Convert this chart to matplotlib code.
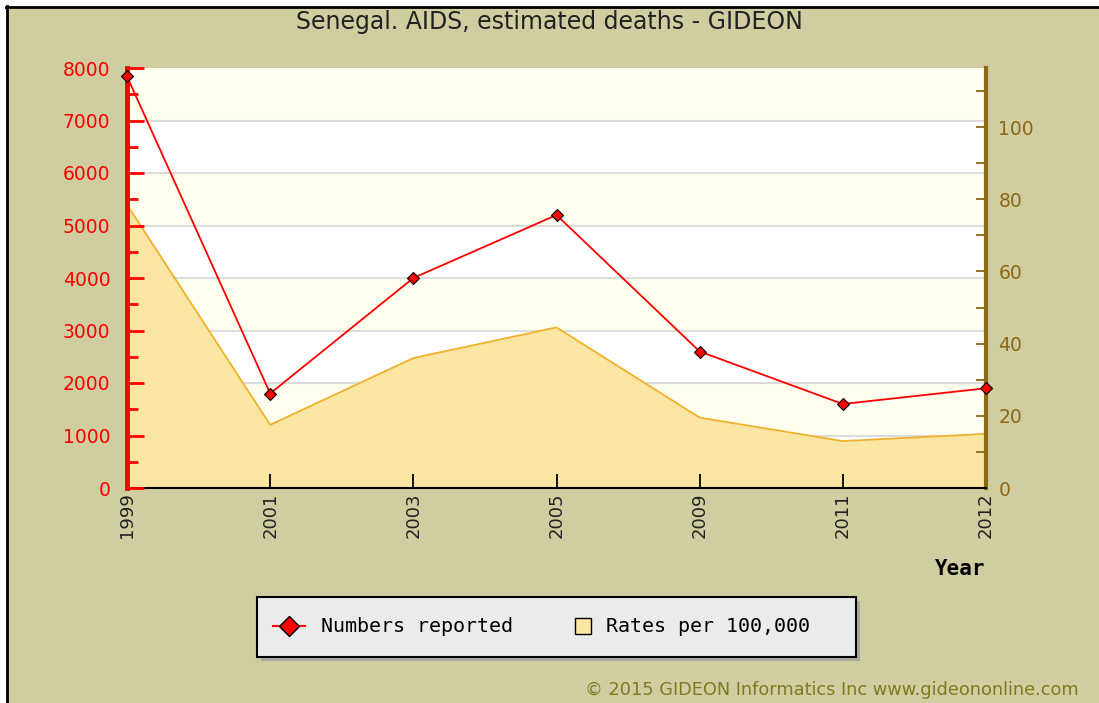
import matplotlib
matplotlib.use("Agg")
import matplotlib.pyplot as plt
from matplotlib.lines import Line2D
from matplotlib.patches import Rectangle
from matplotlib.ticker import MultipleLocator

# данные с графика
years = ["1999", "2001", "2003", "2005", "2009", "2011", "2012"]
numbers = [7840, 1800, 4000, 5200, 2600, 1600, 1900]
rates = [78.5, 17.5, 36.0, 44.5, 19.5, 13.0, 15.0]

BG = "#d0cda0"
BAND = "#fffff0"
FILL = "#fbe5a3"
FILL_EDGE = "#f2b02a"
BROWN = "#8b6914"

fig = plt.figure(figsize=(10.99, 7.03), dpi=100)
fig.patch.set_facecolor(BG)

# рамка скриншота (сверху и слева)
fig.add_artist(Rectangle((0, 1 - 6 / 703), 1, 6 / 703, transform=fig.transFigure, color="white", zorder=0))
fig.add_artist(Rectangle((0, 0), 6 / 1099, 1, transform=fig.transFigure, color="white", zorder=0))
fig.add_artist(Line2D([6 / 1099, 1], [1 - 7 / 703] * 2, transform=fig.transFigure, color="black", lw=2))
fig.add_artist(Line2D([7 / 1099] * 2, [0, 1 - 6 / 703], transform=fig.transFigure, color="black", lw=2))

left, right = 127 / 1099, 986 / 1099
bottom, top = 1 - 488 / 703, 1 - 68 / 703
ax = fig.add_axes([left, bottom, right - left, top - bottom])  # ставки (правая ось)
ax.set_facecolor("white")

x = list(range(len(years)))

# полосы фона и сетка
for i in range(8):
    if i % 2 == 1:
        ax.add_patch(Rectangle((0, i / 8), 1, 1 / 8, transform=ax.transAxes, color=BAND, zorder=0, lw=0))
    ax.plot([0, 1], [i / 8, i / 8], transform=ax.transAxes, color="#dcdcdc", lw=1.5, zorder=0.5)

ax.fill_between(x, rates, 0, color=FILL, lw=0, zorder=1)
ax.plot(x, rates, color=FILL_EDGE, lw=1.3, zorder=1.2)
ax.set_xlim(0, len(years) - 1)
ax.set_ylim(0, 8000 * 100 / 6875)

ax2 = ax.twinx()  # количество (левая ось)
ax2.plot(x, numbers, color="red", lw=1.3, marker="D", markersize=6,
         markerfacecolor="red", markeredgecolor="black", markeredgewidth=0.8, clip_on=False, zorder=3)
ax2.set_ylim(0, 8000)

ax.yaxis.tick_right()
ax2.yaxis.tick_left()

for s in ["top", "left"]:
    ax.spines[s].set_visible(False)
for s in ["top", "right", "bottom"]:
    ax2.spines[s].set_visible(False)
ax.spines["right"].set_color(BROWN)
ax.spines["right"].set_linewidth(3)
ax.spines["bottom"].set_color("black")
ax.spines["bottom"].set_linewidth(1.5)
ax2.spines["left"].set_color("red")
ax2.spines["left"].set_linewidth(3.5)

ax.set_xticks(x)
ax.set_xticklabels(years, rotation=90)
ax.tick_params(axis="x", direction="in", length=10, width=1.3, color="black",
               labelsize=13, labelcolor="#222222", pad=3)

ax.yaxis.set_major_locator(MultipleLocator(20))
ax.yaxis.set_minor_locator(MultipleLocator(10))
ax.tick_params(axis="y", which="both", direction="in", length=7, width=1.3, color=BROWN,
               labelsize=13.5, labelcolor=BROWN, pad=9)

ax2.yaxis.set_major_locator(MultipleLocator(1000))
ax2.yaxis.set_minor_locator(MultipleLocator(500))
ax2.tick_params(axis="y", which="major", direction="in", length=12, width=2, color="red",
                labelsize=13.5, labelcolor="red", pad=12)
ax2.tick_params(axis="y", which="minor", direction="in", length=8, width=2, color="red")

fig.text(0.5, 1 - 22 / 703, "Senegal. AIDS, estimated deaths - GIDEON", ha="center", va="center",
         fontsize=17, color="#222222")
fig.text(985 / 1099, 1 - 569 / 703, "Year", ha="right", va="center", fontsize=15,
         fontweight="bold", family="DejaVu Sans Mono")

# легенда в рамке с тенью
fig.add_artist(Rectangle((261 / 1099, 1 - 661 / 703), 599 / 1099, 60 / 703, transform=fig.transFigure,
                         facecolor="#a8a8a0", edgecolor="none", zorder=1))
fig.add_artist(Rectangle((257 / 1099, 1 - 657 / 703), 599 / 1099, 60 / 703, transform=fig.transFigure,
                         facecolor="#ebebeb", edgecolor="black", lw=1.5, zorder=2))
leg_y = 1 - 627 / 703
leg_font = {"family": "DejaVu Sans Mono", "size": 14.4}
h1 = Line2D([0], [0], color="red", lw=1.5, marker="D", markersize=10,
            markerfacecolor="red", markeredgecolor="black", markeredgewidth=1)
h2 = Line2D([0], [0], linestyle="none", marker="s", markersize=12,
            markerfacecolor=FILL, markeredgecolor="black", markeredgewidth=1)
leg1 = fig.legend([h1], ["Numbers reported"], loc="center left", bbox_to_anchor=(273 / 1099, leg_y),
                  frameon=False, prop=leg_font, borderpad=0, borderaxespad=0,
                  handlelength=1.6, handletextpad=0.8)
leg2 = fig.legend([h2], ["Rates per 100,000"], loc="center left", bbox_to_anchor=(574 / 1099, leg_y),
                  frameon=False, prop=leg_font, borderpad=0, borderaxespad=0,
                  handlelength=0.85, handletextpad=0.75)
leg1.set_zorder(3)
leg2.set_zorder(3)

fig.text(585 / 1099, 1 - 690 / 703, "\u00a9 2015 GIDEON Informatics Inc www.gideononline.com",
         ha="left", va="center", fontsize=12.8, color="#7d7d20")

fig.savefig("out.png", dpi=100, facecolor=fig.get_facecolor())
